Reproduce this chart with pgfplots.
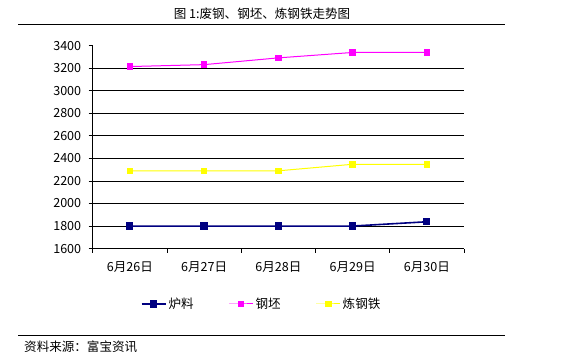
\documentclass[border=0pt]{standalone}
\usepackage{pgfplots}
\pgfplotsset{compat=1.18}
\usepackage{fontspec}
\setmainfont{Noto Sans CJK SC}
\definecolor{navyc}{RGB}{0,0,128}
\definecolor{magc}{RGB}{255,0,255}
\definecolor{yelc}{RGB}{255,255,0}
\begin{document}
\begin{tikzpicture}
\path[use as bounding box] (0,0) rectangle (575bp,357bp);
\node[font=\fontsize{12.6}{14}\selectfont] at (262bp,343bp) {图 1:废钢、钢坯、炼钢铁走势图};
\draw[line width=1bp] (18bp,332bp) -- (505bp,332bp);
\draw[line width=1bp] (18bp,21bp) -- (505bp,21bp);
\node[font=\fontsize{12.6}{14}\selectfont, anchor=west, inner sep=0pt] at (24bp,10bp) {资料来源：富宝资讯};
\begin{axis}[
  at={(92.7bp,108.4bp)}, anchor=south west,
  scale only axis, width=371.3bp, height=202.9bp,
  xmin=-0.5, xmax=4.5, ymin=1600, ymax=3400,
  axis x line=bottom, axis y line=left,
  axis line style={-, line width=0.8bp},
  ytick={1600,1800,...,3400},
  yticklabel style={font=\fontsize{12.6}{14}\selectfont, xshift=-4bp},
  /pgf/number format/assume math mode=true,
  /pgf/number format/1000 sep={},
  y tick style={line width=0.8bp, black},
  tick align=outside, major tick length=4bp,
  extra y ticks={1800,2000,...,3200},
  extra y tick labels={},
  extra y tick style={grid=major, major tick length=0bp},
  major grid style={black, line width=0.8bp},
  xtick={-0.5,0.5,...,4.5},
  xticklabels={},
  x tick style={line width=0.8bp, black},
  extra x ticks={0,1,2,3,4},
  extra x tick labels={6月26日,6月27日,6月28日,6月29日,6月30日},
  extra x tick style={major tick length=0bp, xticklabel style={font=\fontsize{12.6}{14}\selectfont, yshift=-10bp}},
  legend style={at={(0.455,-0.273)}, anchor=center, draw=none, fill=none,
    font=\fontsize{12.6}{14}\selectfont, legend columns=3,
    /tikz/every even column/.append style={column sep=33bp}},
  legend image code/.code={\draw[mark repeat=2,mark phase=2] plot coordinates {(0bp,0bp)(12bp,0bp)(24bp,0bp)};},
  clip=false,
]
\addplot[navyc, line width=1.6bp, mark=square*, mark size=2.8bp, mark options={solid}] coordinates {(0,1800)(1,1800)(2,1800)(3,1800)(4,1838)};
\addlegendentry{炉料}
\addplot[magc, line width=1bp, mark=square*, mark size=2.8bp] coordinates {(0,3215)(1,3232)(2,3292)(3,3340)(4,3340)};
\addlegendentry{钢坯}
\addplot[yelc, line width=1bp, mark=square*, mark size=2.8bp] coordinates {(0,2290)(1,2290)(2,2290)(3,2348)(4,2348)};
\addlegendentry{炼钢铁}
\end{axis}
\end{tikzpicture}
\end{document}
